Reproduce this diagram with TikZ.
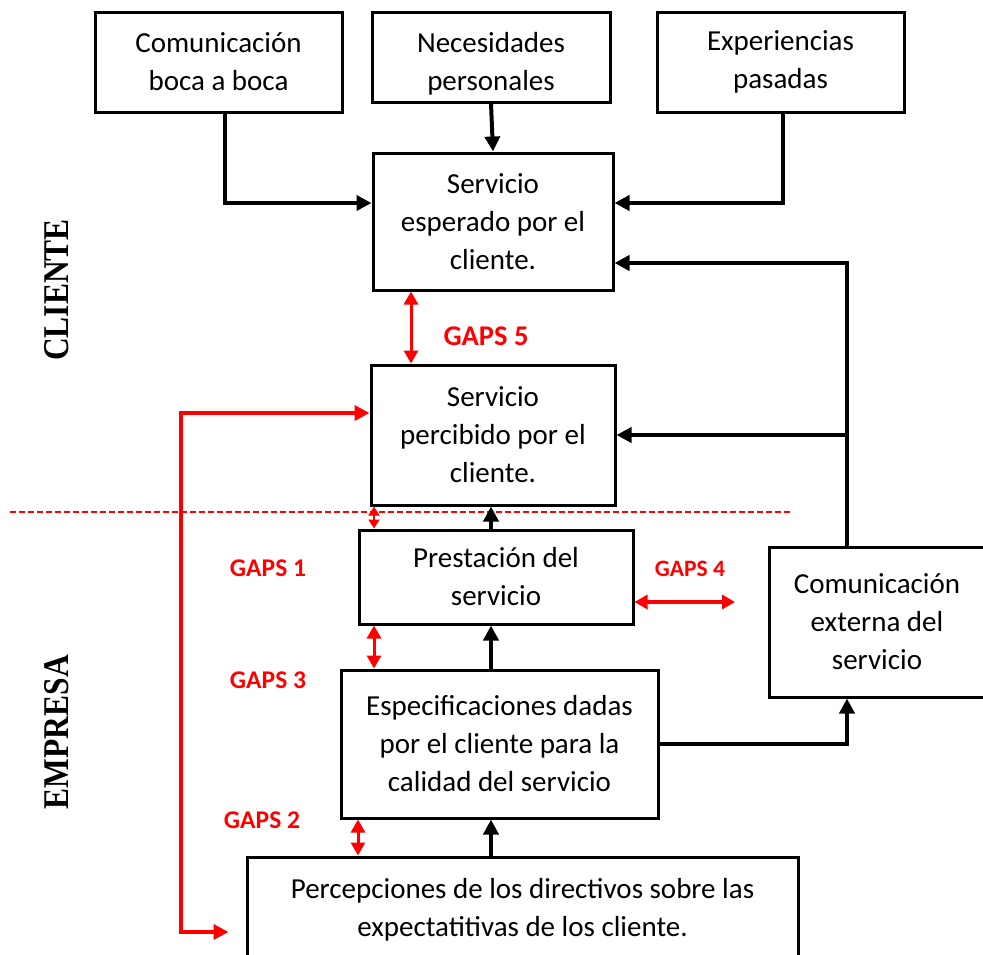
\documentclass[tikz,border=0pt]{standalone}
\usepackage{fontspec}
\setmainfont{Carlito}
\newfontfamily\ladofont{Liberation Serif}
\usetikzlibrary{arrows.meta, positioning}

\tikzset{
	caja/.style={draw, line width=3pt, align=center, inner sep=0pt,
		font=\fontsize{29}{38}\selectfont},
	flecha/.style={line width=4pt, -{Triangle[length=15pt,width=15pt]}},
	rojo/.style={red, line width=4pt},
	gap/.style={red, line width=3pt, {Triangle[length=13pt,width=14pt]}-{Triangle[length=13pt,width=14pt]}},
	gaptxt/.style={red, font=\fontsize{25.5}{30}\selectfont\bfseries},
	lado/.style={rotate=90, font=\ladofont\fontsize{31.5}{36}\selectfont\bfseries}
}

\begin{document}
\begin{tikzpicture}[x=1pt,y=-1pt]
	\useasboundingbox (0,0) rectangle (983,954);

	% cajas del cliente
	\node[caja, minimum width=247pt, minimum height=100pt] (boca) at (218.5,62) {Comunicación\\boca a boca};
	\node[caja, minimum width=238pt, minimum height=90pt] (nec) at (491,57) {\rule{0pt}{34pt}Necesidades\\personales};
	\node[caja, minimum width=247pt, minimum height=100pt] (exp) at (780.5,62) {Experiencias\\pasadas};
	\node[caja, minimum width=240pt, minimum height=137pt] (esp) at (493,221.5) {Servicio\\esperado por el\\cliente.};
	\node[caja, minimum width=244pt, minimum height=140pt] (perc) at (493,435) {Servicio\\percibido por el\\cliente.};

	% cajas de la empresa
	\node[caja, minimum width=274pt, minimum height=94pt] (prest) at (496,577) {Prestación del\\servicio};
	\node[caja, minimum width=216pt, minimum height=150pt] (ext) at (877,622) {Comunicación\\externa del\\servicio};
	\node[caja, minimum width=317pt, minimum height=148pt] (espec) at (499.5,744) {Especificaciones dadas\\por el cliente para la\\calidad del servicio};
	\node[caja, minimum width=551pt, minimum height=106pt] (dir) at (522.5,910) {Percepciones de los directivos sobre las\\expectatitivas de los cliente.};

	% rotulos laterales
	\node[lado] (cliente) at (57,290) {\scalebox{1}[1.15]{CLIENTE}};
	\node[lado] (empresa) at (57,732) {\scalebox{1}[1.15]{EMPRESA}};

	% linea divisoria
	\draw[red, line width=1.3pt, dash pattern=on 6pt off 3pt] (10,512) -- (790,512);

	\coordinate (eje) at (491,0);
	\coordinate (bus) at (847,0);

	% flechas negras
	\draw[flecha] ([xshift=6.5pt]boca.south) |- ([yshift=18.5pt]esp.west);
	\draw[flecha] (nec.south) -- (esp.north);
	\draw[flecha] ([xshift=2.5pt]exp.south) |- ([yshift=18.5pt]esp.east);
	\draw[flecha] (ext.north -| bus) |- ([yshift=-41.5pt]esp.east);
	\draw[flecha] (bus |- perc.east) -- (perc.east);
	\draw[flecha] (prest.north -| eje) -- (perc.south -| eje);
	\draw[flecha] (espec.north -| eje) -- (prest.south -| eje);
	\draw[flecha] (dir.north -| eje) -- (espec.south -| eje);
	\draw[flecha] (espec.east) -| (ext.south -| bus);

	% gaps
	\coordinate (g5) at (411,0);
	\coordinate (g1) at (374,0);
	\coordinate (g2) at (358,0);
	\coordinate (g4) at (735,602);
	\coordinate (lazo) at (181,413);
	\draw[gap] (esp.south -| g5) -- (perc.north -| g5);
	\draw[gap, line width=2pt, {Triangle[length=9pt,width=11pt]}-{Triangle[length=9pt,width=11pt]}] (perc.south -| g1) -- (prest.north -| g1);
	\draw[gap] (prest.south -| g1) -- (espec.north -| g1);
	\draw[gap] (espec.south -| g2) -- (dir.north -| g2);
	\draw[gap, line width=4pt] ([yshift=-25pt]prest.east) -- (g4);
	\draw[rojo, {Triangle[length=15pt,width=15pt]}-{Triangle[length=15pt,width=15pt]}]
		([xshift=-17pt,yshift=-22pt]dir.west) -| (lazo) -- ([yshift=22pt]perc.west);

	\node[gaptxt, font=\fontsize{28.5}{32}\selectfont\bfseries] (t5) at (486,336) {GAPS 5};
	\node[gaptxt] (t1) at (268,568) {GAPS 1};
	\node[gaptxt] (t3) at (268,680) {GAPS 3};
	\node[gaptxt] (t2) at (262,820) {GAPS 2};
	\node[gaptxt, font=\fontsize{23.5}{28}\selectfont\bfseries] (t4) at (690,569) {GAPS 4};
\end{tikzpicture}
\end{document}
